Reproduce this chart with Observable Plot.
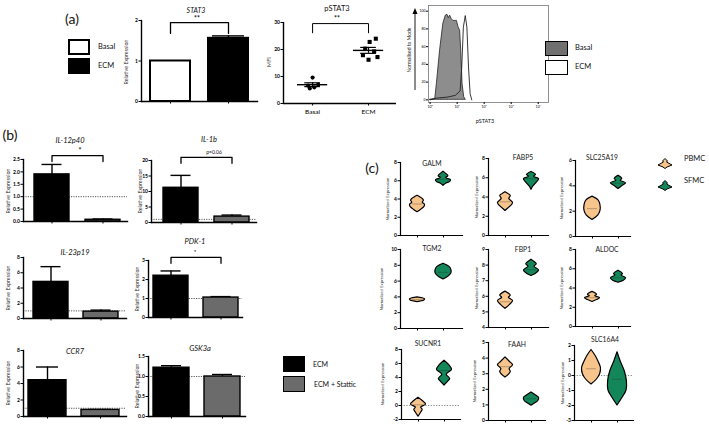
<!DOCTYPE html>
<html><head><meta charset="utf-8">
<script src="https://cdn.jsdelivr.net/npm/d3@7"></script>
<script src="https://cdn.jsdelivr.net/npm/@observablehq/plot@0.6"></script>
<style>
html,body{margin:0;padding:0;background:#fff;}
#root{position:relative;width:709px;height:427px;overflow:hidden;background:#fff;font-family:Lato,'Liberation Sans',sans-serif;}
</style></head>
<body><div id="root"></div>
<script>
// ================= DATA =================
// (a) STAT3 relative expression
const stat3Groups = ["Basal", "ECM"];
const stat3Mean = [1.0, 1.56];
const stat3Err = [null, 1.62];
const stat3Ticks = [0, 1, 2];
const stat3Bracket = [1.95, 1.68];

// (a) pSTAT3 MFI
const pstatGroups = ["Basal", "ECM"];
const pstatBasal = [9.6, 7.0, 6.6, 6.0, 5.6];
const pstatBasalJitter = [0.0, 0.1, -0.08, 0.03, -0.05];
const pstatECM = [24.0, 22.8, 20.3, 19.3, 17.9, 17.2, 16.2];
const pstatECMJitter = [0.13, 0.02, -0.06, 0.1, -0.1, 0.16, 0.0];
const pstatTicks = [0, 10, 20, 30];
const pstatBracket = [29.6, 26.2];

// (a) pSTAT3 flow histogram (log10 fluorescence, % of mode)
const histBasalX = [0, 0.19, 0.25, 0.37, 0.49, 0.58, 0.64, 0.69, 0.74, 0.8, 0.86, 0.93, 0.99, 1.05, 1.11, 1.15, 1.2, 1.26, 1.32];
const histBasalY = [0, 1, 18, 56, 86, 95, 96, 92, 95, 91, 89, 89, 89, 82, 78, 56, 18, 3, 0];
const histECMX = [0, 0.25, 0.62, 0.93, 1.11, 1.17, 1.23, 1.3, 1.36, 1.42, 1.48, 1.54];
const histECMY = [0, 2, 3, 5, 10, 37, 82, 95, 82, 37, 7, 0];
const histXTicks = [0, 1, 2, 3, 4];
const histXTickLabels = ["10⁰", "10¹", "10²", "10³", "10⁴"];
const histYTicks = [0, 20, 40, 60, 80, 100];

// (b) ECM vs ECM + Stattic
const bGroups = ["ECM", "ECM + Stattic"];
const il12p40Mean = [1.9, 0.07], il12p40Err = [2.3, 0.1];
const il12p40Ticks = [0, 0.5, 1.0, 1.5, 2.0, 2.5];
const il1bMean = [11.2, 1.9], il1bErr = [15.2, 2.4];
const il1bTicks = [0, 5, 10, 15, 20];
const il23p19Mean = [4.8, 0.9], il23p19Err = [6.8, 1.1];
const il23p19Ticks = [0, 2, 4, 6, 8];
const pdk1Mean = [2.2, 1.05], pdk1Err = [2.45, 1.1];
const pdk1Ticks = [0, 1, 2, 3];
const ccr7Mean = [4.4, 0.8], ccr7Err = [6.0, 0.85];
const ccr7Ticks = [0, 2, 4, 6, 8];
const gsk3aMean = [1.22, 1.0], gsk3aErr = [1.27, 1.05];
const gsk3aTicks = [0, 0.5, 1.0, 1.5];

// (c) violins: y levels and relative widths, medians [PBMC, SFMC]
const galmPbmcY = [2.55, 2.8, 3.1, 3.35, 3.6, 3.8, 4.0, 4.2, 4.35];
const galmPbmcW = [0, 0.45, 0.9, 1.0, 0.7, 0.85, 0.7, 0.35, 0];
const galmSfmcY = [5.45, 5.7, 5.85, 6.05, 6.3, 6.5, 6.75, 7.0];
const galmSfmcW = [0, 0.4, 0.85, 1.0, 0.35, 0.65, 0.35, 0];
const galmMed = [3.45, 6.15];

const fabp5PbmcY = [2.55, 2.9, 3.15, 3.4, 3.8, 4.1, 4.3, 4.5];
const fabp5PbmcW = [0, 0.5, 0.85, 1.0, 0.5, 0.7, 0.4, 0];
const fabp5SfmcY = [4.75, 5.1, 5.5, 5.85, 6.1, 6.3, 6.6];
const fabp5SfmcW = [0, 0.25, 0.7, 1.0, 0.35, 0.6, 0];
const fabp5Med = [3.5, 5.9];

const slc25a19PbmcY = [1.3, 1.65, 2.0, 2.5, 2.85, 3.15];
const slc25a19PbmcW = [0, 0.75, 1.05, 1.05, 0.8, 0];
const slc25a19SfmcY = [3.75, 4.0, 4.2, 4.4, 4.55, 4.8];
const slc25a19SfmcW = [0, 0.55, 1.0, 0.3, 0.5, 0];
const slc25a19Med = [2.2, 4.2];

const tgm2PbmcY = [3.35, 3.55, 3.7, 3.85, 3.95];
const tgm2PbmcW = [0, 0.9, 1.0, 0.6, 0];
const tgm2SfmcY = [6.2, 6.6, 7.0, 7.4, 7.8, 8.2];
const tgm2SfmcW = [0, 0.7, 1.05, 1.05, 0.8, 0];
const tgm2Med = [3.65, 7.1];

const fbp1PbmcY = [5.2, 5.45, 5.7, 5.9, 6.05, 6.3];
const fbp1PbmcW = [0, 0.6, 1.0, 0.45, 0.7, 0];
const fbp1SfmcY = [7.3, 7.45, 7.65, 7.9, 8.05, 8.35];
const fbp1SfmcW = [0, 0.6, 1.0, 0.4, 0.7, 0];
const fbp1Med = [5.65, 7.7];

const aldocPbmcY = [2.55, 2.75, 2.95, 3.15, 3.3, 3.6];
const aldocPbmcW = [0, 0.6, 1.0, 0.35, 0.6, 0];
const aldocSfmcY = [4.55, 4.75, 5.0, 5.3, 5.45, 5.8];
const aldocSfmcW = [0, 0.7, 1.0, 0.4, 0.6, 0];
const aldocMed = [3.0, 5.05];

const sucnr1PbmcY = [-1.6, -1.1, -0.6, -0.3, 0.15, 0.6, 1.1];
const sucnr1PbmcW = [0, 0.3, 0.55, 0.35, 1.0, 0.6, 0];
const sucnr1SfmcY = [2.85, 3.3, 3.8, 4.4, 5.1, 5.8, 6.4];
const sucnr1SfmcW = [0, 0.4, 0.75, 0.3, 1.0, 0.6, 0];
const sucnr1Med = [0.1, 5.0];

const faahPbmcY = [2.75, 3.1, 3.3, 3.55, 3.75, 4.05];
const faahPbmcW = [0, 0.7, 0.55, 1.0, 0.6, 0];
const faahSfmcY = [0.95, 1.1, 1.25, 1.45, 1.6, 1.8];
const faahSfmcW = [0, 0.5, 0.9, 1.0, 0.6, 0];
const faahMed = [3.45, 1.4];

const slc16a4PbmcY = [-0.6, -0.25, 0.1, 0.5, 0.9, 1.3, 1.7];
const slc16a4PbmcW = [0, 0.75, 1.15, 1.25, 0.95, 0.55, 0];
const slc16a4SfmcY = [-2.0, -1.5, -1.0, -0.4, 0.3, 0.9, 1.55];
const slc16a4SfmcW = [0, 0.65, 1.2, 1.25, 0.95, 0.45, 0];
const slc16a4Med = [0.45, -0.25];

// ================= LAYOUT / HELPERS =================
const FONT = "Lato, 'Liberation Sans', sans-serif";
const STYLE = {background: "transparent", overflow: "visible", fontFamily: FONT, color: "#000"};
const PBMC_FILL = "#f7c48c", SFMC_FILL = "#14875a";
const STATTIC_FILL = "#6b6b6b";
const root = document.getElementById("root");

function place(node, left, top) {
  node.style.position = "absolute";
  node.style.left = left + "px";
  node.style.top = top + "px";
  root.appendChild(node);
  return node;
}
function label(s, x, y, o = {}) {
  const d = document.createElement("div");
  d.textContent = s;
  const tx = o.anchor === "start" ? "0" : o.anchor === "end" ? "-100%" : "-50%";
  d.style.cssText = `position:absolute;left:${x}px;top:${y}px;font-size:${o.size || 7}px;` +
    `font-style:${o.italic ? "italic" : "normal"};font-weight:${o.weight || 400};color:${o.color || "#111"};` +
    `white-space:nowrap;line-height:1;font-family:${FONT};` +
    `transform:translate(${tx},-50%)${o.rotate ? ` rotate(${o.rotate}deg)` : ""};`;
  root.appendChild(d);
}
function box(x, y, w, h, fill, stroke = "#000", sw = 1.5) {
  const d = document.createElement("div");
  d.style.cssText = `position:absolute;left:${x}px;top:${y}px;width:${w}px;height:${h}px;background:${fill};border:${sw}px solid ${stroke};box-sizing:border-box;`;
  root.appendChild(d);
}
function bandParams(L, c0, c1, bw) {
  const s = c1 - c0, pi = 1 - bw / s;
  const po = (L / s - 2 + pi) / 2;
  const leftover = L - s * (2 - pi);
  const align = leftover > 0 ? (c0 - bw / 2) / leftover : 0.5;
  return {paddingInner: pi, paddingOuter: po, align: Math.max(0, Math.min(1, align))};
}
const intFmt = d => String(d).replace("-", "-");

function barChart(o) {
  const ML = 22, MR = 3, MT = 10, MB = 6;
  const L = o.axisEnd - o.axisX;
  const bp = bandParams(L, o.c0 - o.axisX, o.c1 - o.axisX, o.bw);
  const data = o.groups.map((g, i) => ({g, v: o.mean[i], e: o.err[i], f: o.fills[i]}));
  const errData = data.filter(d => d.e != null);
  const marks = [];
  if (o.ref != null) marks.push(Plot.ruleY([o.ref], {stroke: "#444", strokeWidth: 0.9, strokeDasharray: "1.2,1.2"}));
  marks.push(
    Plot.ruleX(errData, {x: "g", y1: "v", y2: "e", stroke: "#000", strokeWidth: 1.4}),
    Plot.tickY(errData, {x: "g", y: "e", stroke: "#000", strokeWidth: 1.4, insetLeft: o.capInset, insetRight: o.capInset}),
    Plot.barY(data, {x: "g", y: "v", fill: "f", stroke: "#000", strokeWidth: o.barStroke || 1.4})
  );
  if (o.bracket) {
    const [g0, g1] = o.groups;
    marks.push(Plot.line([{g: g0, y: o.bracket[1]}, {g: g0, y: o.bracket[0]}, {g: g1, y: o.bracket[0]}, {g: g1, y: o.bracket[1]}],
      {x: "g", y: "y", stroke: "#000", strokeWidth: 1.3}));
  }
  marks.push(
    Plot.frame({anchor: "left", stroke: "#000", strokeWidth: 1.4}),
    Plot.frame({anchor: "bottom", stroke: "#000", strokeWidth: 1.4}),
    Plot.axisY({ticks: o.ticks, tickFormat: o.fmt || intFmt, tickSize: 2.5, tickPadding: 1, fontSize: 5, fontWeight: "bold"}),
    Plot.axisX({tickSize: 2.5, tickFormat: () => ""})
  );
  const svg = Plot.plot({
    width: L + ML + MR, height: (o.y0px - o.yTopPx) + MT + MB,
    marginLeft: ML, marginRight: MR, marginTop: MT, marginBottom: MB,
    x: {type: "band", domain: o.groups, ...bp, label: null},
    y: {domain: o.domain, label: null},
    color: {type: "identity"}, style: STYLE, marks
  });
  place(svg, o.axisX - ML, o.yTopPx - MT);
}

function violinChart(o) {
  const ML = 20, MR = 3, MT = 4, MB = 6;
  const L = o.axisEnd - o.axisX;
  const PX = 26, OFF = 17, HW = 0.29;
  const xDom = [1 - OFF / PX, 1 + (L - OFF) / PX];
  const rows = [], meds = [];
  o.violins.forEach((v, i) => {
    v.y.forEach((y, j) => rows.push({g: i, y, x1: i + 1 - v.w[j] * HW, x2: i + 1 + v.w[j] * HW, f: v.fill}));
    meds.push({m: v.med, x1: i + 1 - 0.6 * HW, x2: i + 1 + 0.6 * HW});
  });
  const marks = [];
  if (o.ref != null) marks.push(Plot.ruleY([o.ref], {stroke: "#777", strokeWidth: 0.9, strokeDasharray: "1.2,1.5"}));
  marks.push(
    Plot.areaX(rows, {y: "y", x1: "x1", x2: "x2", z: "g", fill: "f", stroke: "#000", strokeWidth: 1.2, curve: "catmull-rom"}),
    Plot.ruleY(meds, {y: "m", x1: "x1", x2: "x2", stroke: "#222", strokeWidth: 0.6, strokeDasharray: "1,1"}),
    Plot.frame({anchor: "left", stroke: "#000", strokeWidth: 1.2}),
    Plot.frame({anchor: "bottom", stroke: "#000", strokeWidth: 1.2}),
    Plot.axisY({ticks: o.ticks, tickFormat: intFmt, tickSize: 2.5, tickPadding: 1, fontSize: 5, fontWeight: "bold"}),
    Plot.axisX({ticks: [1, 2], tickSize: 2.5, tickFormat: () => ""})
  );
  const svg = Plot.plot({
    width: L + ML + MR, height: (o.y0px - o.yTopPx) + MT + MB,
    marginLeft: ML, marginRight: MR, marginTop: MT, marginBottom: MB,
    x: {domain: xDom, label: null},
    y: {domain: o.domain, label: null},
    color: {type: "identity"}, style: STYLE, marks
  });
  place(svg, o.axisX - ML, o.yTopPx - MT);
  label(o.title, o.tx, o.ty, {size: 6.8, color: "#222"});
  label("Normalized Expression", o.lx, (o.yTopPx + o.y0px) / 2, {size: 4.3, rotate: -90, color: "#333"});
}

// ================= PANEL (a) =================
label("(a)", 72, 19, {size: 14});
box(68, 39, 22, 16, "#fff", "#000", 2);
box(68, 58, 22, 16, "#000", "#000", 2);
label("Basal", 98, 47, {size: 7.5, anchor: "start"});
label("ECM", 98, 66, {size: 7.5, anchor: "start"});

barChart({groups: stat3Groups, mean: stat3Mean, err: stat3Err, fills: ["#fff", "#000"], domain: [0, 2], ticks: stat3Ticks,
  axisX: 141, axisEnd: 257, yTopPx: 20, y0px: 101, c0: 170, c1: 228, bw: 40, capInset: 4, barStroke: 2, bracket: stat3Bracket});
label("STAT3", 196, 10, {size: 7, italic: true});
label("**", 197, 18, {size: 7, weight: 700});
label("Relative Expression", 127, 62, {size: 5.3, rotate: -90, color: "#333"});

// pSTAT3 scatter
(function () {
  const axisX = 283, axisEnd = 396, yTopPx = 22, y0px = 103;
  const ML = 22, MR = 3, MT = 10, MB = 14;
  const pts = [];
  pstatBasal.forEach((v, i) => pts.push({x: 1 + pstatBasalJitter[i], v, s: "circle"}));
  pstatECM.forEach((v, i) => pts.push({x: 2 + pstatECMJitter[i], v, s: "square"}));
  const summ = [pstatBasal, pstatECM].map((arr, i) => {
    const m = d3.mean(arr), se = d3.deviation(arr) / Math.sqrt(arr.length);
    return {x: i + 1, m, lo: m - se, hi: m + se};
  });
  const svg = Plot.plot({
    width: (axisEnd - axisX) + ML + MR, height: (y0px - yTopPx) + MT + MB,
    marginLeft: ML, marginRight: MR, marginTop: MT, marginBottom: MB,
    x: {domain: [0.48, 2.5], label: null}, y: {domain: [0, 30], label: null},
    style: STYLE,
    marks: [
      Plot.dot(pts.filter(d => d.s === "circle"), {x: "x", y: "v", r: 2.1, fill: "#000", symbol: "circle"}),
      Plot.dot(pts.filter(d => d.s === "square"), {x: "x", y: "v", r: 2.3, fill: "#000", symbol: "square"}),
      Plot.ruleY(summ, {y: "m", x1: d => d.x - 0.27, x2: d => d.x + 0.27, stroke: "#000", strokeWidth: 1.4}),
      Plot.ruleX(summ, {x: "x", y1: "lo", y2: "hi", stroke: "#000", strokeWidth: 1.2}),
      Plot.ruleY(summ, {y: "lo", x1: d => d.x - 0.14, x2: d => d.x + 0.14, stroke: "#000", strokeWidth: 1.2}),
      Plot.ruleY(summ, {y: "hi", x1: d => d.x - 0.14, x2: d => d.x + 0.14, stroke: "#000", strokeWidth: 1.2}),
      Plot.line([{x: 1, y: pstatBracket[1]}, {x: 1, y: pstatBracket[0]}, {x: 2, y: pstatBracket[0]}, {x: 2, y: pstatBracket[1]}],
        {x: "x", y: "y", stroke: "#000", strokeWidth: 1}),
      Plot.ruleX([0.48], {stroke: "#000", strokeWidth: 1.4}),
      Plot.ruleY([0], {stroke: "#000", strokeWidth: 1.4}),
      Plot.axisY({ticks: pstatTicks, tickSize: 2.5, tickPadding: 1, fontSize: 5, fontWeight: "bold"}),
      Plot.axisX({ticks: [1, 2], tickSize: 2.5, tickPadding: 3, fontSize: 6.5, tickFormat: d => pstatGroups[d - 1]})
    ]
  });
  place(svg, axisX - ML, yTopPx - MT);
})();
label("pSTAT3", 337, 9, {size: 7.5});
label("**", 337, 18, {size: 7, weight: 700});
label("MFI", 270, 62, {size: 5.5, rotate: -90, color: "#333"});

// Histogram
(function () {
  const fx0 = 428, fx1 = 548, fy0 = 5, fy1 = 102;
  const ML = 12, MR = 2, MT = 2, MB = 10;
  const basal = histBasalX.map((x, i) => ({x, y: histBasalY[i]}));
  const ecm = histECMX.map((x, i) => ({x, y: histECMY[i]}));
  const svg = Plot.plot({
    width: (fx1 - fx0) + ML + MR, height: (fy1 - fy0) + MT + MB,
    marginLeft: ML, marginRight: MR, marginTop: MT, marginBottom: MB,
    x: {domain: [-0.06, 4.38], label: null}, y: {domain: [-3, 106.4], label: null},
    style: STYLE,
    marks: [
      Plot.areaY(basal, {x: "x", y: "y", fill: "#8d8d8d", stroke: "#222", strokeWidth: 0.8}),
      Plot.lineY(ecm, {x: "x", y: "y", stroke: "#222", strokeWidth: 0.9}),
      Plot.frame({stroke: "#777", strokeWidth: 0.8}),
      Plot.axisY({ticks: histYTicks, tickSize: 2, tickPadding: 1, fontSize: 3.5}),
      Plot.axisX({ticks: histXTicks, tickSize: 2, tickPadding: 1, fontSize: 3.5, tickFormat: (d, i) => histXTickLabels[i]})
    ]
  });
  place(svg, fx0 - ML, fy0 - MT);
})();
label("Normalised to Mode", 409, 50, {size: 5, rotate: -90, color: "#222"});
(function () {
  const d = document.createElement("div");
  d.style.cssText = "position:absolute;left:412px;top:8px;width:6px;height:84px;";
  d.innerHTML = '<svg width="6" height="84"><line x1="3" y1="82" x2="3" y2="4" stroke="#000" stroke-width="0.9"/><path d="M0.5,6 L3,0 L5.5,6 Z" fill="#000"/></svg>';
  root.appendChild(d);
})();
label("pSTAT3", 485, 122, {size: 5.5});
box(545, 41, 23, 15, "#707070", "#000", 1.5);
box(545, 60, 23, 15, "#fff", "#000", 1.5);
label("Basal", 575, 48, {size: 7.5, anchor: "start"});
label("ECM", 575, 67, {size: 7.5, anchor: "start"});

// ================= PANEL (b) =================
label("(b)", 10, 135, {size: 14});
const f1 = d3.format(".1f");
const bFills = ["#000", STATTIC_FILL];
barChart({groups: bGroups, mean: il12p40Mean, err: il12p40Err, fills: bFills, domain: [0, 2.5], ticks: il12p40Ticks, fmt: f1,
  axisX: 23, axisEnd: 127, yTopPx: 159, y0px: 221, c0: 51, c1: 102, bw: 35, capInset: 7.5, ref: 1, bracket: [2.66, 2.42]});
label("IL-12p40", 70, 141, {size: 7.5, italic: true});
label("*", 80, 150, {size: 7, weight: 700});
label("Relative Expression", 9, 191, {size: 5.3, rotate: -90, color: "#333"});

barChart({groups: bGroups, mean: il1bMean, err: il1bErr, fills: bFills, domain: [0, 20], ticks: il1bTicks,
  axisX: 151, axisEnd: 256, yTopPx: 160, y0px: 222, c0: 180, c1: 231, bw: 35, capInset: 7.5, ref: 1, bracket: [21, 19.1]});
label("IL-1b", 209, 140, {size: 7.5, italic: true});
label("p=0.06", 214, 152, {size: 5});
label("Relative Expression", 141, 191, {size: 5.3, rotate: -90, color: "#333"});

barChart({groups: bGroups, mean: il23p19Mean, err: il23p19Err, fills: bFills, domain: [0, 8], ticks: il23p19Ticks,
  axisX: 23, axisEnd: 126, yTopPx: 257, y0px: 318, c0: 50, c1: 100, bw: 35, capInset: 7.5, ref: 1});
label("IL-23p19", 75, 253, {size: 7.5, italic: true});
label("Relative Expression", 9, 288, {size: 5.3, rotate: -90, color: "#333"});

barChart({groups: bGroups, mean: pdk1Mean, err: pdk1Err, fills: bFills, domain: [0, 3], ticks: pdk1Ticks,
  axisX: 148, axisEnd: 242, yTopPx: 260, y0px: 317, c0: 170, c1: 220, bw: 35, capInset: 7.5, ref: 1, bracket: [3.16, 2.85]});
label("PDK-1", 195, 242, {size: 7.5, italic: true});
label("*", 195, 252, {size: 5, weight: 700});
label("Relative Expression", 138, 289, {size: 5.3, rotate: -90, color: "#333"});

barChart({groups: bGroups, mean: ccr7Mean, err: ccr7Err, fills: bFills, domain: [0, 8], ticks: ccr7Ticks,
  axisX: 23, axisEnd: 126, yTopPx: 350, y0px: 416, c0: 47, c1: 100, bw: 38, capInset: 8, ref: 1});
label("CCR7", 75, 352, {size: 7.5, italic: true});
label("Relative Expression", 9, 383, {size: 5.3, rotate: -90, color: "#333"});

barChart({groups: bGroups, mean: gsk3aMean, err: gsk3aErr, fills: bFills, domain: [0, 1.5], ticks: gsk3aTicks, fmt: f1,
  axisX: 148, axisEnd: 245, yTopPx: 356, y0px: 416, c0: 171, c1: 222, bw: 36, capInset: 8, ref: 1});
label("GSK3a", 200, 349, {size: 7.5, italic: true});
label("Relative Expression", 138, 386, {size: 5.3, rotate: -90, color: "#333"});

box(283, 356, 22, 16, "#000", "#000", 1.5);
box(283, 376, 22, 16, STATTIC_FILL, "#000", 1.5);
label("ECM", 313, 364, {size: 7, anchor: "start"});
label("ECM + Stattic", 314, 384, {size: 7, anchor: "start"});

// ================= PANEL (c) =================
label("(c)", 372, 168, {size: 14});
const V = (py, pw, sy, sw, med) => [
  {y: py, w: pw, med: med[0], fill: PBMC_FILL},
  {y: sy, w: sw, med: med[1], fill: SFMC_FILL}
];
violinChart({title: "GALM", tx: 432, ty: 163, lx: 388, axisX: 400, axisEnd: 462, yTopPx: 162, y0px: 235, domain: [0, 8], ticks: [0, 2, 4, 6, 8],
  violins: V(galmPbmcY, galmPbmcW, galmSfmcY, galmSfmcW, galmMed)});
violinChart({title: "FABP5", tx: 523, ty: 157, lx: 477, axisX: 488, axisEnd: 548, yTopPx: 158, y0px: 235, domain: [0, 8], ticks: [0, 2, 4, 6, 8],
  violins: V(fabp5PbmcY, fabp5PbmcW, fabp5SfmcY, fabp5SfmcW, fabp5Med)});
violinChart({title: "SLC25A19", tx: 602, ty: 157, lx: 562, axisX: 575, axisEnd: 630, yTopPx: 160, y0px: 236, domain: [0, 6], ticks: [0, 2, 4, 6],
  violins: V(slc25a19PbmcY, slc25a19PbmcW, slc25a19SfmcY, slc25a19SfmcW, slc25a19Med)});
violinChart({title: "TGM2", tx: 432, ty: 248, lx: 382, axisX: 400, axisEnd: 462, yTopPx: 249, y0px: 328, domain: [0, 10], ticks: [0, 2, 4, 6, 8, 10],
  violins: V(tgm2PbmcY, tgm2PbmcW, tgm2SfmcY, tgm2SfmcW, tgm2Med)});
violinChart({title: "FBP1", tx: 523, ty: 249, lx: 477, axisX: 488, axisEnd: 548, yTopPx: 249, y0px: 327, domain: [4, 9], ticks: [4, 5, 6, 7, 8, 9],
  violins: V(fbp1PbmcY, fbp1PbmcW, fbp1SfmcY, fbp1SfmcW, fbp1Med)});
violinChart({title: "ALDOC", tx: 607, ty: 249, lx: 562, axisX: 575, axisEnd: 630, yTopPx: 249, y0px: 326, domain: [0, 8], ticks: [0, 2, 4, 6, 8],
  violins: V(aldocPbmcY, aldocPbmcW, aldocSfmcY, aldocSfmcW, aldocMed)});
violinChart({title: "SUCNR1", tx: 428, ty: 343, lx: 383, axisX: 401, axisEnd: 460, yTopPx: 349, y0px: 419, domain: [-2, 8], ticks: [-2, 0, 2, 4, 6, 8], ref: 0,
  violins: V(sucnr1PbmcY, sucnr1PbmcW, sucnr1SfmcY, sucnr1SfmcW, sucnr1Med)});
violinChart({title: "FAAH", tx: 517, ty: 344, lx: 475, axisX: 488, axisEnd: 545, yTopPx: 342, y0px: 420, domain: [0, 5], ticks: [0, 1, 2, 3, 4, 5],
  violins: V(faahPbmcY, faahPbmcW, faahSfmcY, faahSfmcW, faahMed)});
violinChart({title: "SLC16A4", tx: 605, ty: 339, lx: 563, axisX: 574, axisEnd: 633, yTopPx: 345, y0px: 420, domain: [-3, 2], ticks: [-3, -2, -1, 0, 1, 2], ref: 0,
  violins: V(slc16a4PbmcY, slc16a4PbmcW, slc16a4SfmcY, slc16a4SfmcW, slc16a4Med)});

// legend (c)
[[PBMC_FILL, 153, "PBMC"], [SFMC_FILL, 175, "SFMC"]].forEach(([fill, y, name]) => {
  const d = document.createElement("div");
  d.style.cssText = `position:absolute;left:657px;top:${y}px;width:16px;height:11px;`;
  d.innerHTML = `<svg width="16" height="11"><path d="M8,0.5 L10.5,3 L9.5,4 L15,7 L10,9 L8,10.5 L6,9 L1,7 L6.5,4 L5.5,3 Z" fill="${fill}" stroke="#000" stroke-width="1"/></svg>`;
  root.appendChild(d);
  label(name, 684, y + 5.5, {size: 7.5, anchor: "start"});
});
</script>
</body></html>
